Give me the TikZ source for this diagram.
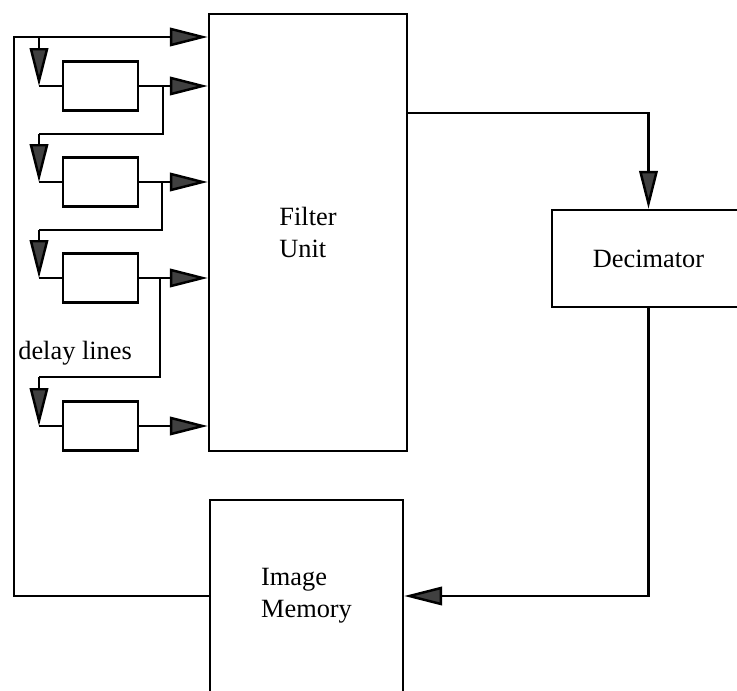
\documentclass[tikz,border=0pt]{standalone}
\usepackage{fontspec}
\setmainfont{Liberation Serif}
\usepackage{tikz}
\usetikzlibrary{arrows.meta}
\tikzset{
  ln/.style={line width=1.4pt},
  ar/.style={line width=1.4pt,-{Triangle[length=0.76cm,width=0.37cm,fill=black!75]}},
  dl/.style={draw,line width=1.4pt,minimum width=1.5cm,minimum height=0.98cm,inner sep=0pt},
  bx/.style={draw,line width=1.4pt,inner sep=0pt,align=left,font=\fontsize{15}{18}\selectfont}
}
\newcommand{\dtap}[4]{%
  \coordinate (#1s) at (#3,#4);
  \coordinate (#1c) at (39,#4);
  \draw[ln] (#1.east -| #1s) -- (#1s) -- (#1c);
  \draw[ar] (#1c) -- (#1c |- #2.west);
  \draw[ln] (#1c |- #2.west) -- (#2.west);}

\begin{document}
\begin{tikzpicture}[x=0.02cm,y=-0.02cm]
\useasboundingbox (0,0) rectangle (737,690);
\clip (0,0) rectangle (737,690);
% blocks
\node[bx,minimum width=3.96cm,minimum height=8.74cm] (fu) at (308,232.5) {Filter\\Unit};
\node[bx,minimum width=3.86cm,minimum height=1.94cm] (dec) at (648.5,258.5) {Decimator};
\node[bx,minimum width=3.86cm,minimum height=3.84cm] (im) at (306.5,596) {Image\\Memory};
\node[dl] (d1) at (100.5,86) {};
\node[dl] (d2) at (100.5,182) {};
\node[dl] (d3) at (100.5,278) {};
\node[dl] (d4) at (100.5,426) {};
\node[anchor=base west,font=\fontsize{15}{18}\selectfont,inner sep=0pt] (dlt) at (18,359) {delay lines};
% feedback loop
\coordinate (lb) at (14,596);
\coordinate (lt) at (14,37);
\coordinate (b0) at (39,37);
\draw[ar] (im.west) -- (lb) -- (lt) -- (lt -| fu.west);
\draw[ar] (b0) -- (b0 |- d1.west);
\draw[ln] (b0 |- d1.west) -- (d1.west);
% delay line taps
\draw[ar] (d1.east) -- (d1.east -| fu.west);
\draw[ar] (d2.east) -- (d2.east -| fu.west);
\draw[ar] (d3.east) -- (d3.east -| fu.west);
\draw[ar] (d4.east) -- (d4.east -| fu.west);
\dtap{d1}{d2}{163}{134}
\dtap{d2}{d3}{162}{230}
\dtap{d3}{d4}{160}{377}
% filter -> decimator -> memory
\coordinate (fo) at (648.5,113);
\coordinate (dco) at (648.5,596);
\draw[ar] (fo -| fu.east) -- (fo) -- (dec.north);
\draw[ar] (dec.south) -- (dco) -- (im.east);
\end{tikzpicture}
\end{document}
